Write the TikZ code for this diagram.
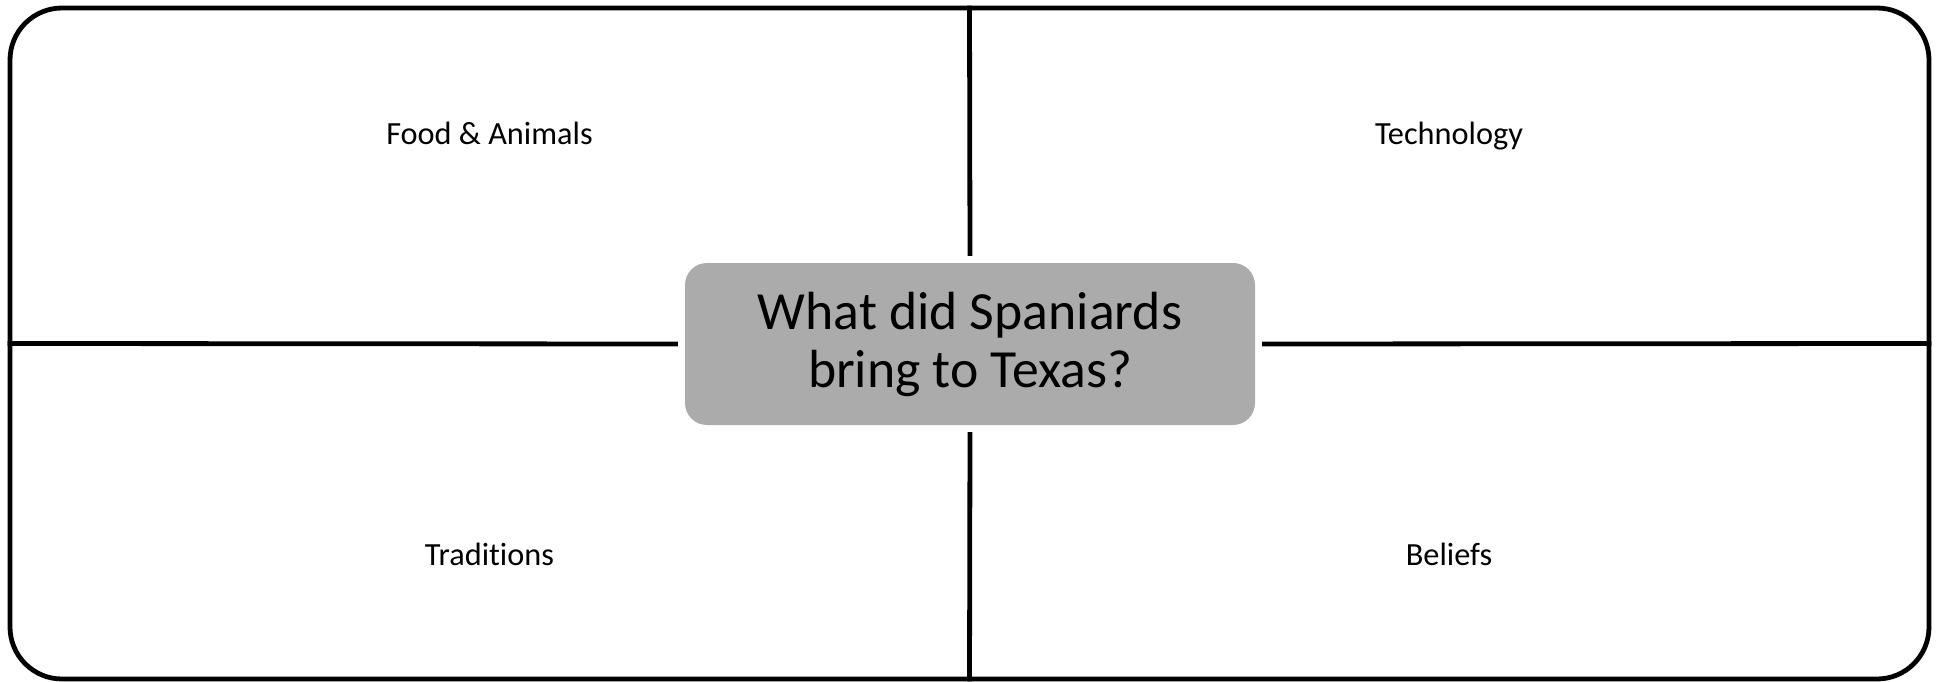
\documentclass[tikz,border=0pt]{standalone}
\usepackage{fontspec}
\setmainfont{Carlito}[Ligatures={NoCommon}]
\usetikzlibrary{positioning}
\definecolor{boxgray}{HTML}{ABABAB}
\tikzstyle{frame} = [rectangle, rounded corners=52pt, draw=black, line width=4.8pt, minimum width=1919pt, minimum height=671pt, inner sep=0pt]
\tikzstyle{question} = [rectangle, rounded corners=22pt, fill=boxgray, minimum width=570pt, minimum height=162pt, align=center, inner sep=0pt, font=\fontsize{53.7}{58}\selectfont]
\tikzstyle{label} = [font=\fontsize{32.3}{36}\selectfont, inner sep=0pt, anchor=base]
\tikzstyle{divider} = [line width=4.8pt, shorten >=7pt]

\begin{document}
\begin{tikzpicture}[x=1pt, y=-1pt]
	\useasboundingbox (0,0) rectangle (1939,682);
	% blocks
	\node [frame] (frame) at (969.5,343.5) {};
	\node [question] (q) at (970,344) {What did Spaniards\\bring to Texas?};
	\node [label] (food) at (489.5,144.5) {Food \& Animals};
	\node [label] (tech) at (1449,144.5) {Technology};
	\node [label] (trad) at (489.5,565.5) {Traditions};
	\node [label] (belief) at (1449,565.5) {Beliefs};
	
	% lines
	\draw [divider] (frame.north) -- (q.north);
	\draw [divider] (frame.south) -- (q.south);
	\draw [divider] (frame.west) -- (q.west);
	\draw [divider] (frame.east) -- (q.east);
\end{tikzpicture}
\end{document}
